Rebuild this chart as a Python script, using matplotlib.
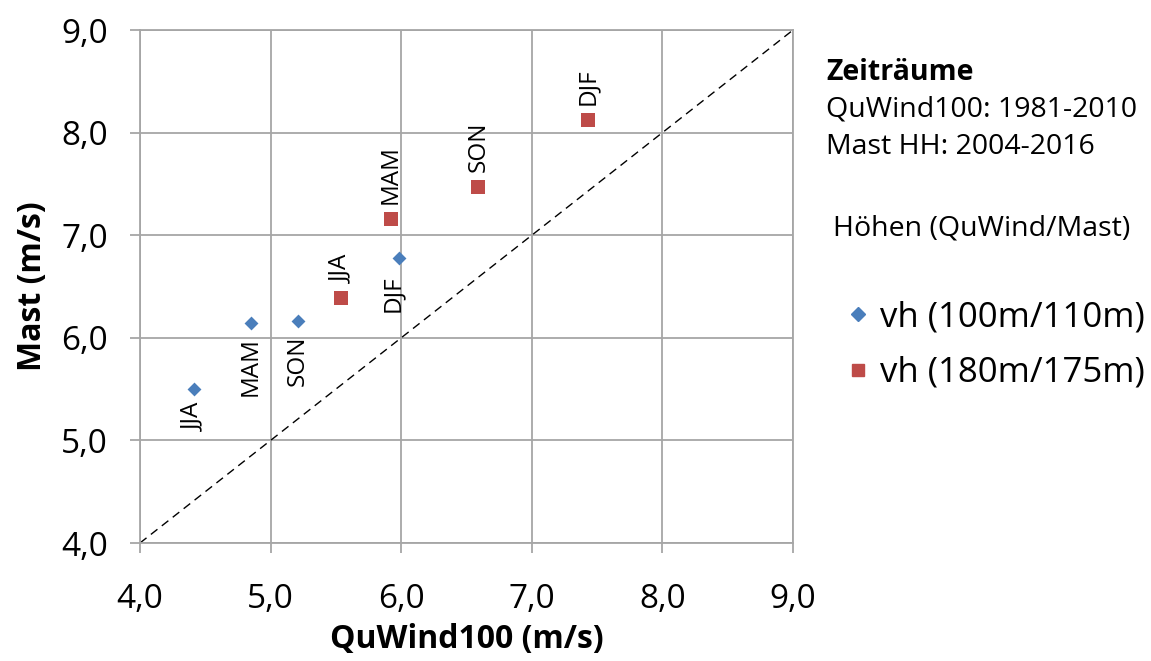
import matplotlib
matplotlib.use("Agg")
import matplotlib.pyplot as plt
from matplotlib.lines import Line2D

plt.rcParams['font.family'] = ['Open Sans', 'DejaVu Sans']

seasons = ["JJA", "MAM", "SON", "DJF"]

# QuWind100 vs. mast wind speeds (m/s)
quwind_100 = [4.41, 4.85, 5.21, 5.98]
mast_110 = [5.50, 6.14, 6.16, 6.78]
quwind_180 = [5.54, 5.92, 6.59, 7.43]
mast_175 = [6.39, 7.16, 7.47, 8.12]

ticks = [4.0, 5.0, 6.0, 7.0, 8.0, 9.0]
tick_labels = ["4,0", "5,0", "6,0", "7,0", "8,0", "9,0"]

blue = "#4a7ebb"
red = "#be4b48"
grid_col = "#a6a6a6"

fig = plt.figure(figsize=(11.51, 6.61), dpi=100)
ax = fig.add_axes([0.1216, 0.1785, 0.5674, 0.7761])

ax.set_xlim(4, 9)
ax.set_ylim(4, 9)
ax.set_xticks(ticks)
ax.set_yticks(ticks)
ax.set_xticklabels(tick_labels, fontsize=24)
ax.set_yticklabels(tick_labels, fontsize=24)
ax.grid(True, color=grid_col, linewidth=1.3)
ax.set_axisbelow(True)
for s in ax.spines.values():
    s.set_color(grid_col)
    s.set_linewidth(1.3)
ax.tick_params(direction="out", length=7, width=1.3, color=grid_col)
ax.tick_params(axis="x", pad=22)
ax.tick_params(axis="y", pad=16)

# 1:1 reference line
ax.plot([4, 9], [4, 9], color="black", linestyle=(0, (6, 4)), linewidth=1.0, zorder=2)

ax.scatter(quwind_100, mast_110, marker="D", s=50, color=blue, zorder=3, linewidths=0)
ax.scatter(quwind_180, mast_175, marker="s", s=90, color=red, zorder=3, linewidths=0)

# season labels: 100 m below the points, 180 m above
for x, y, lab in zip(quwind_100, mast_110, seasons):
    dx, dy = (-4, -13) if lab == "DJF" else (0, -10)
    ax.annotate(lab, (x, y), xytext=(dx, dy), textcoords="offset points",
                rotation=90, ha="center", va="top", fontsize=17.5)
for x, y, lab in zip(quwind_180, mast_175, seasons):
    ax.annotate(lab, (x, y), xytext=(0, 11), textcoords="offset points",
                rotation=90, ha="center", va="bottom", fontsize=17.5)

ax.set_xlabel("QuWind100 (m/s)", fontsize=23, fontweight="bold")
ax.set_ylabel("Mast (m/s)", fontsize=23, fontweight="bold")
ax.xaxis.set_label_coords(0.5, -0.188)
ax.xaxis.label.set_va("center")
ax.yaxis.set_label_coords(-0.165, 0.5)
ax.yaxis.label.set_va("center")

fig.text(0.7177, 0.891, "Zeiträume", fontsize=20.5, fontweight="bold", va="center")
fig.text(0.7177, 0.834, "QuWind100: 1981-2010", fontsize=20.5, va="center")
fig.text(0.7177, 0.778, "Mast HH: 2004-2016", fontsize=20.5, va="center")
fig.text(0.7237, 0.654, "Höhen (QuWind/Mast)", fontsize=20.5, va="center")

handles = [
    Line2D([], [], marker="D", color=blue, linestyle="none", markersize=7),
    Line2D([], [], marker="s", color=red, linestyle="none", markersize=9),
]
fig.legend(handles, ["vh (100m/110m)", "vh (180m/175m)"], loc="center left",
           bbox_to_anchor=(0.709, 0.478), frameon=False, fontsize=25,
           handlelength=0.6, handletextpad=0.35, labelspacing=0.62)

fig.savefig("out.png", dpi=100)
